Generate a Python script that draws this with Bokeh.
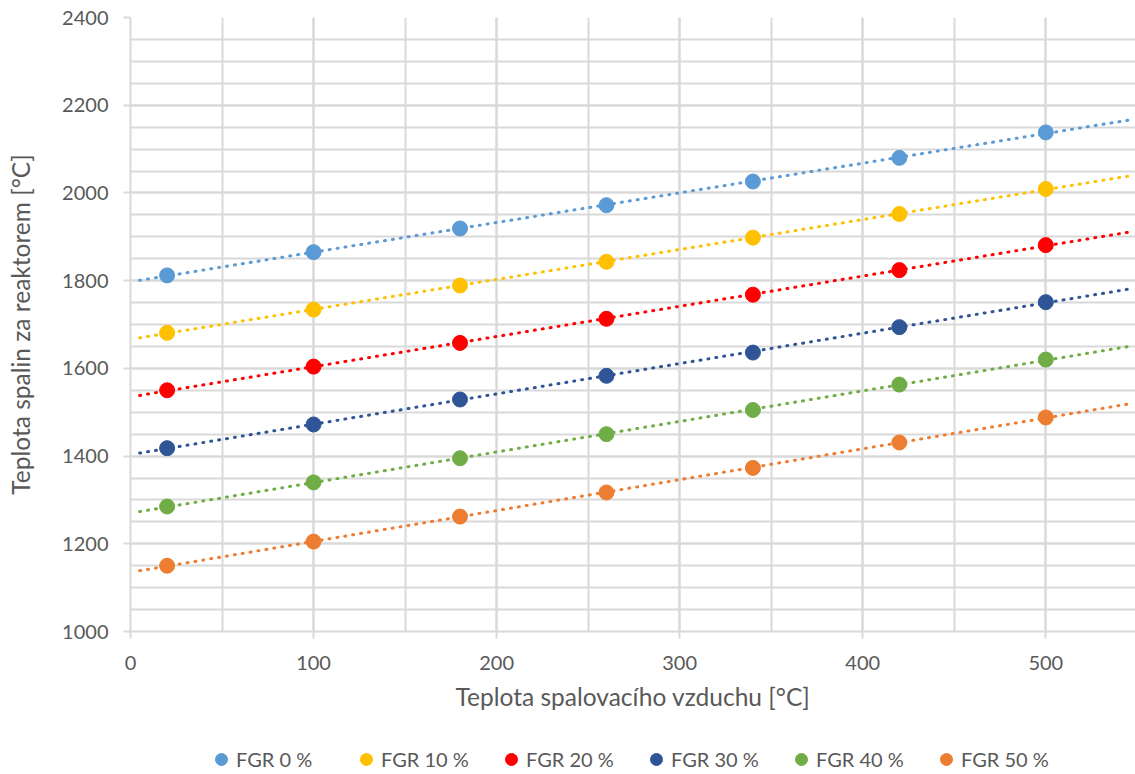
import numpy as np
from bokeh.plotting import figure
from bokeh.layouts import column
from bokeh.models import Range1d, SingleIntervalTicker, Legend, LegendItem
from bokeh.embed import file_html
from bokeh.resources import INLINE

# ---- data ----
air_temp = [20, 100, 180, 260, 340, 420, 500]
fgr_0 = [1812, 1865, 1919, 1972, 2026, 2080, 2138]
fgr_10 = [1681, 1734, 1789, 1843, 1898, 1952, 2009]
fgr_20 = [1550, 1604, 1658, 1713, 1768, 1824, 1881]
fgr_30 = [1418, 1472, 1529, 1583, 1636, 1694, 1751]
fgr_40 = [1285, 1340, 1395, 1450, 1505, 1563, 1620]
fgr_50 = [1150, 1205, 1262, 1317, 1373, 1431, 1488]
series_names = ["FGR 0 %", "FGR 10 %", "FGR 20 %", "FGR 30 %", "FGR 40 %", "FGR 50 %"]
series_values = [fgr_0, fgr_10, fgr_20, fgr_30, fgr_40, fgr_50]
colors = ["#5B9BD5", "#FFC000", "#FF0000", "#2F5597", "#70AD47", "#ED7D31"]
trend_backward = 15
trend_forward = 45

FONT = "Lato"
TXT = "#595959"
GRID = "#D9D9D9"

p = figure(width=1135, height=714, output_backend="svg", toolbar_location=None,
           x_range=Range1d(0, 549), y_range=Range1d(1000, 2400),
           min_border_left=130, min_border_right=0, min_border_top=17, min_border_bottom=83)
p.outline_line_color = None
p.background_fill_color = "white"
p.border_fill_color = "white"

p.xaxis.ticker = SingleIntervalTicker(interval=100, num_minor_ticks=2)
p.yaxis.ticker = SingleIntervalTicker(interval=200, num_minor_ticks=4)
p.xgrid.ticker = p.xaxis.ticker
p.ygrid.ticker = p.yaxis.ticker
for g in (p.xgrid, p.ygrid):
    g.grid_line_color = GRID
    g.grid_line_width = 2
    g.minor_grid_line_color = GRID
    g.minor_grid_line_width = 2

for ax in (p.xaxis, p.yaxis):
    ax.axis_line_color = GRID
    ax.axis_line_width = 2
    ax.major_tick_line_color = GRID
    ax.major_tick_line_width = 2
    ax.major_tick_out = 7
    ax.major_tick_in = 0
    ax.minor_tick_line_color = None
    ax.major_label_text_font = FONT
    ax.major_label_text_font_size = "20px"
    ax.major_label_text_color = TXT
    ax.axis_label_text_font = FONT
    ax.axis_label_text_font_size = "24.5px"
    ax.axis_label_text_color = TXT
    ax.axis_label_text_font_style = "normal"

p.xaxis.axis_label = "Teplota spalovacího vzduchu [°C]"
p.yaxis.axis_label = "Teplota spalin za reaktorem [°C]"
p.xaxis.major_label_standoff = 17
p.xaxis.axis_label_standoff = 9
p.yaxis.major_label_standoff = 15
p.yaxis.axis_label_standoff = 24

x_arr = np.array(air_temp, dtype=float)
for name, vals, col in zip(series_names, series_values, colors):
    k, q = np.polyfit(x_arr, np.array(vals, dtype=float), 1)
    tx = np.array([x_arr.min() - trend_backward, x_arr.max() + trend_forward])
    p.line(tx, k * tx + q, line_color=col, line_width=3, line_dash="1 7", line_cap="round")
for name, vals, col in zip(series_names, series_values, colors):
    p.scatter(air_temp, vals, size=15, marker="circle", fill_color=col, line_color=col)

# ---- legend strip below the chart ----
lg = figure(width=1135, height=60, output_backend="svg", toolbar_location=None,
            x_range=Range1d(0, 1), y_range=Range1d(0, 1),
            x_axis_location=None, y_axis_location=None,
            min_border_left=0, min_border_right=0, min_border_top=0, min_border_bottom=0)
lg.outline_line_color = None
lg.xgrid.visible = False
lg.ygrid.visible = False
lg.background_fill_color = "white"
lg.border_fill_color = "white"
items = []
for name, vals, col in zip(series_names, series_values, colors):
    r = lg.scatter(air_temp, vals, size=12, marker="circle", fill_color=col, line_color=col)
    items.append(LegendItem(label=name, renderers=[r]))
legend = Legend(items=items, orientation="horizontal", location=(76, 0),
                glyph_width=30, glyph_height=30, label_standoff=-3, label_width=100,
                spacing=15, padding=0, margin=0,
                label_text_font=FONT, label_text_font_size="20px", label_text_color=TXT,
                border_line_color=None, background_fill_alpha=0)
lg.add_layout(legend, "center")

layout = column(p, lg, spacing=0)
open("out.html", "w").write(file_html(layout, INLINE))
